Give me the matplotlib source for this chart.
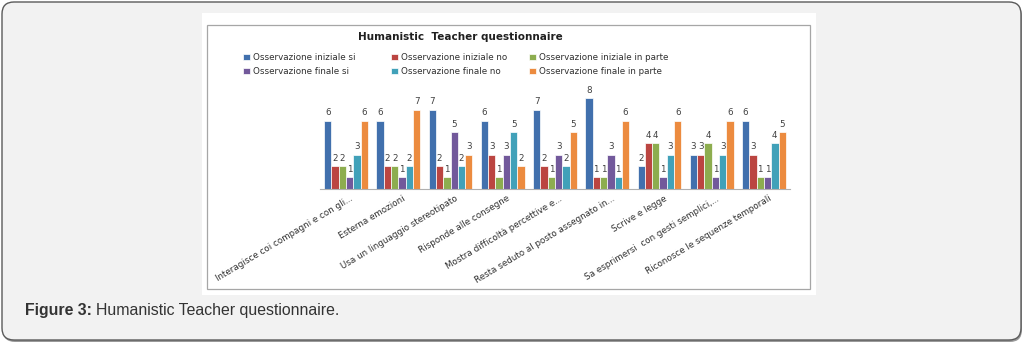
import matplotlib
matplotlib.use("Agg")
import matplotlib.pyplot as plt
import numpy as np
from matplotlib.patches import FancyBboxPatch, Rectangle
from matplotlib.transforms import IdentityTransform

# questionnaire items (x axis)
categories = [
    "Interagisce coi compagni e con gli...",
    "Esterna emozioni",
    "Usa un linguaggio stereotipato",
    "Risponde alle consegne",
    "Mostra difficoltà percettive e...",
    "Resta seduto al posto assegnato in...",
    "Scrive e legge",
    "Sa esprimersi  con gesti semplici,...",
    "Riconosce le sequenze temporali",
]

series_names = [
    "Osservazione iniziale si",
    "Osservazione iniziale no",
    "Osservazione iniziale in parte",
    "Osservazione finale si",
    "Osservazione finale no",
    "Osservazione finale in parte",
]

# counts per item
iniziale_si = [6, 6, 7, 6, 7, 8, 2, 3, 6]
iniziale_no = [2, 2, 2, 3, 2, 1, 4, 3, 3]
iniziale_parte = [2, 2, 1, 1, 1, 1, 4, 4, 1]
finale_si = [1, 1, 5, 3, 3, 3, 1, 1, 1]
finale_no = [3, 2, 2, 5, 2, 1, 3, 3, 4]
finale_parte = [6, 7, 3, 2, 5, 6, 6, 6, 5]

series = [iniziale_si, iniziale_no, iniziale_parte, finale_si, finale_no, finale_parte]
colors = ["#4170ad", "#bb4541", "#8dad4f", "#72599b", "#41a1b9", "#ec8b3f"]

W, H = 1025, 344
fig = plt.figure(figsize=(W / 100, H / 100), dpi=100)
fig.patch.set_facecolor("white")


def px_box(x0, y0, x1, y1):
    """ convert top-left pixel box to bottom-left display coords """
    return x0, H - y1, x1 - x0, y1 - y0


# page frame with rounded corners and a small shadow
x, y, w, h = px_box(2, 2, 1021, 340)
shadow = FancyBboxPatch((x + 1, y - 2), w, h, boxstyle="round,pad=0,rounding_size=12",
                        transform=IdentityTransform(), facecolor="#9a9a9a", edgecolor="none", zorder=0)
frame = FancyBboxPatch((x, y), w, h, boxstyle="round,pad=0,rounding_size=12",
                       transform=IdentityTransform(), facecolor="#f2f2f2", edgecolor="#5a5a5a",
                       linewidth=1.0, zorder=0)
fig.patches.extend([shadow, frame])

# white chart area and its gray border
x, y, w, h = px_box(202, 13, 816, 295)
fig.patches.append(Rectangle((x, y), w, h, transform=IdentityTransform(),
                             facecolor="white", edgecolor="none", zorder=0))
x, y, w, h = px_box(207, 25, 810, 289)
fig.patches.append(Rectangle((x, y), w, h, transform=IdentityTransform(),
                             facecolor="white", edgecolor="#a6a6a6", linewidth=0.9, zorder=0))

ax = fig.add_axes([320 / W, 1 - 188.6 / H, 470 / W, 101.6 / H])
ax.set_zorder(3)
ax.patch.set_alpha(0)

n = len(series)
bar_w = 0.14
xpos = np.arange(len(categories))
handles = []
for i, (vals, col, name) in enumerate(zip(series, colors, series_names)):
    offs = xpos + (i - (n - 1) / 2) * bar_w
    bars = ax.bar(offs, vals, width=bar_w, color=col, edgecolor="white",
                  linewidth=0.5, label=name)
    handles.append(bars)
    for b, v in zip(bars, vals):
        ax.text(b.get_x() + b.get_width() / 2, v + 0.3, str(v), ha="center", va="bottom",
                fontsize=6.3, color="#404040")

ax.set_xlim(-0.5, len(categories) - 0.5)
ax.set_ylim(0, 9)
ax.set_yticks([])
ax.set_xticks(xpos + 0.08)
ax.set_xticklabels(categories, rotation=31, ha="right", va="top",
                   rotation_mode="anchor", fontsize=6.3, color="#303030")
ax.tick_params(axis="x", length=0, pad=4)
for s in ["top", "left", "right"]:
    ax.spines[s].set_visible(False)
ax.spines["bottom"].set_color("#b0b0b0")
ax.spines["bottom"].set_linewidth(0.8)

fig.text(460 / W, 1 - 37 / H, "Humanistic  Teacher questionnaire", ha="center", va="center",
         fontsize=7.5, fontweight="bold", color="#202020", zorder=3)

# legend in three fixed-width columns (iniziale on top row, finale below)
col_x = [243, 391, 529]
for c in range(3):
    pair = [c, c + 3]
    leg = fig.legend([handles[k] for k in pair], [series_names[k] for k in pair],
                     loc="center left", bbox_to_anchor=(col_x[c] / W, 1 - 64.5 / H), ncol=1,
                     frameon=False, fontsize=6.3, handlelength=0.8, handleheight=0.7,
                     handletextpad=0.3, labelspacing=0.6, borderpad=0, borderaxespad=0)
    leg.set_zorder(3)
    for t in leg.get_texts():
        t.set_color("#303030")

# caption under the chart
cap = fig.text(25 / W, 1 - 311 / H, "Figure 3:", fontsize=11.4, fontweight="bold",
               family="Liberation Sans", color="#333333", va="center")
fig.canvas.draw()
bb = cap.get_window_extent()
fig.text((bb.x1 + 4) / W, 1 - 311 / H, "Humanistic Teacher questionnaire.", fontsize=11.4,
         family="Liberation Sans", color="#333333", va="center")

fig.savefig("out.png", dpi=100)
